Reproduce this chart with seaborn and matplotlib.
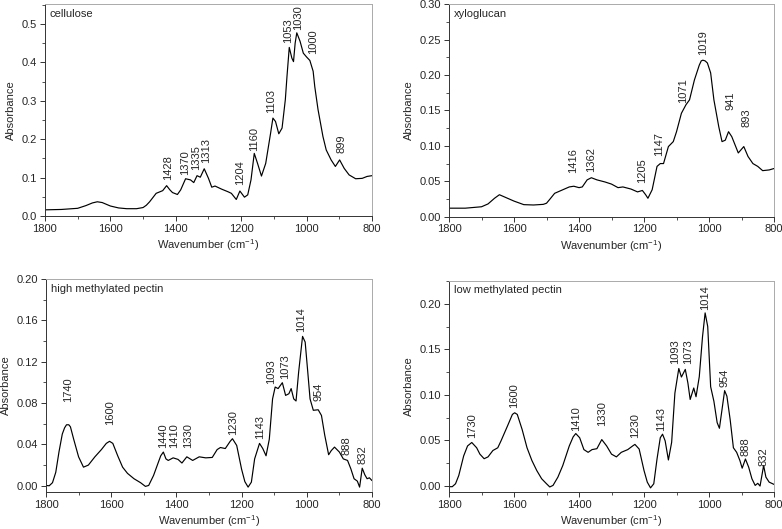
import matplotlib
matplotlib.use('Agg')
import matplotlib.pyplot as plt
import seaborn as sns
from matplotlib.ticker import MultipleLocator, FormatStrFormatter

# cellulose spectrum
cellulose_wn = [1800, 1750, 1700, 1675, 1655, 1640, 1625, 1600, 1575, 1550, 1520, 1500,
                1490, 1480, 1460, 1440, 1428, 1418, 1410, 1395,
                1385, 1370, 1355, 1345, 1335, 1325, 1313, 1300, 1290, 1280, 1260, 1240,
                1230, 1215, 1204, 1190, 1180, 1170, 1160, 1150, 1138, 1125, 1110, 1103,
                1095, 1085, 1075, 1065, 1060, 1053, 1045, 1040, 1035, 1030, 1020, 1010,
                1000, 990, 980, 975, 965, 950, 940, 925, 912, 899, 885, 870, 850, 830,
                815, 800]
cellulose_abs = [0.016, 0.017, 0.020, 0.027, 0.034, 0.037, 0.035, 0.026, 0.021, 0.019,
                 0.019, 0.022, 0.028, 0.037, 0.059, 0.066, 0.079, 0.068,
                 0.061, 0.056, 0.068, 0.097, 0.094, 0.087, 0.105, 0.101, 0.123, 0.098,
                 0.075, 0.078, 0.070, 0.063, 0.059, 0.043, 0.065, 0.049, 0.055, 0.094,
                 0.163, 0.137, 0.104, 0.137, 0.216, 0.255, 0.246, 0.214, 0.229, 0.303,
                 0.363, 0.439, 0.411, 0.402, 0.450, 0.477, 0.455, 0.424, 0.414, 0.405,
                 0.377, 0.337, 0.277, 0.207, 0.172, 0.146, 0.129, 0.146, 0.124, 0.107,
                 0.097, 0.098, 0.103, 0.105]
cellulose_peaks = ['1428', '1370', '1335', '1313', '1204', '1160', '1103', '1053', '1030',
                   '1000', '899']
cellulose_peak_x = [1425, 1371, 1338, 1307, 1203, 1162, 1108, 1058, 1026, 979, 892]
cellulose_peak_y = [0.094, 0.107, 0.120, 0.137, 0.081, 0.168, 0.268, 0.450, 0.485, 0.423,
                    0.163]

# xyloglucan spectrum
xyloglucan_wn = [1800, 1750, 1700, 1680, 1660, 1645, 1630, 1600, 1570, 1540, 1510, 1500,
                 1490, 1475, 1450, 1430, 1416, 1400, 1390, 1375, 1362, 1345, 1320, 1300,
                 1280, 1265, 1240, 1220, 1205, 1195, 1188, 1175, 1160, 1150, 1140, 1125,
                 1110, 1100, 1085, 1071, 1060, 1045, 1030, 1024, 1019, 1012, 1005, 995,
                 985, 970, 960, 950, 940, 930, 910, 893, 880, 865, 850, 835, 815, 800]
xyloglucan_abs = [0.012, 0.012, 0.014, 0.018, 0.026, 0.031, 0.028, 0.022, 0.017, 0.0165,
                  0.0174, 0.019, 0.0245, 0.033, 0.038, 0.042, 0.043, 0.041, 0.042, 0.052,
                  0.055, 0.052, 0.049, 0.046, 0.041, 0.042, 0.039, 0.035, 0.037, 0.031,
                  0.026, 0.038, 0.071, 0.075, 0.075, 0.099, 0.106, 0.120, 0.146, 0.158,
                  0.165, 0.193, 0.214, 0.220, 0.221, 0.220, 0.217, 0.203, 0.165, 0.127,
                  0.106, 0.108, 0.120, 0.113, 0.090, 0.099, 0.085, 0.075, 0.071, 0.065,
                  0.066, 0.068]
xyloglucan_peaks = ['1416', '1362', '1205', '1147', '1071', '1019', '941', '893']
xyloglucan_peak_x = [1418, 1362, 1206, 1153, 1079, 1017, 935, 886]
xyloglucan_peak_y = [0.061, 0.0636, 0.047, 0.085, 0.160, 0.228, 0.151, 0.127]

# high methylated pectin spectrum
hm_pectin_wn = [1800, 1790, 1780, 1770, 1760, 1750, 1743, 1737, 1730, 1725, 1715, 1700,
                1685, 1670, 1650, 1630, 1615, 1605, 1595, 1580, 1565, 1550, 1530, 1510,
                1495, 1485, 1470, 1455, 1448, 1440, 1432, 1425, 1410, 1395, 1383, 1368,
                1350, 1330, 1310, 1290, 1275, 1265, 1250, 1235, 1228, 1215, 1200, 1190,
                1180, 1170, 1160, 1145, 1135, 1125, 1115, 1105, 1097, 1088, 1075, 1065,
                1055, 1048, 1040, 1033, 1025, 1013, 1005, 997, 990, 980, 965, 955, 945,
                933, 925, 915, 900, 888, 875, 865, 855, 845, 838, 830, 822, 815, 808, 800]
hm_pectin_abs = [0.0003, 0.0, 0.003, 0.013, 0.033, 0.050, 0.056, 0.059, 0.059, 0.057,
                 0.045, 0.028, 0.018, 0.020, 0.028, 0.035, 0.041, 0.043, 0.041, 0.029,
                 0.018, 0.012, 0.0068, 0.003, -0.0006, 0.0003, 0.010, 0.023, 0.029, 0.0326,
                 0.026, 0.0245, 0.027, 0.0255, 0.022, 0.028, 0.0245, 0.028, 0.027, 0.0274,
                 0.035, 0.037, 0.036, 0.043, 0.0455, 0.039, 0.016, 0.004, -0.0013, 0.0035,
                 0.026, 0.041, 0.036, 0.029, 0.045, 0.084, 0.0955, 0.094, 0.0997, 0.0874,
                 0.089, 0.094, 0.084, 0.082, 0.110, 0.1445, 0.139, 0.110, 0.084, 0.073,
                 0.0735, 0.068, 0.049, 0.030, 0.034, 0.0374, 0.0326, 0.026, 0.0245, 0.0165,
                 0.0068, 0.0045, -0.0013, 0.017, 0.0106, 0.0068, 0.0077, 0.005]
hm_pectin_peaks = ['1740', '1600', '1440', '1410', '1330', '1230', '1143', '1093', '1073',
                   '1014', '954', '888', '832']
hm_pectin_peak_x = [1732, 1604, 1442, 1408, 1364, 1226, 1142, 1108, 1068, 1017, 965, 879,
                    828]
hm_pectin_peak_y = [0.081, 0.059, 0.0365, 0.0365, 0.0365, 0.049, 0.0455, 0.0987, 0.1035,
                    0.149, 0.0816, 0.030, 0.021]

# low methylated pectin spectrum
lm_pectin_wn = [1800, 1790, 1780, 1770, 1755, 1743, 1730, 1715, 1705, 1692, 1680, 1665,
                1650, 1640, 1620, 1605, 1598, 1590, 1575, 1560, 1545, 1530, 1515, 1500,
                1490, 1480, 1465, 1450, 1430, 1418, 1410, 1398, 1385, 1372, 1360, 1345,
                1330, 1315, 1300, 1285, 1270, 1250, 1235, 1228, 1215, 1200, 1190, 1180,
                1170, 1160, 1150, 1143, 1135, 1125, 1115, 1105, 1093, 1085, 1073, 1065,
                1058, 1047, 1040, 1030, 1020, 1012, 1004, 995, 985, 975, 968, 960, 952,
                945, 935, 925, 915, 905, 898, 888, 878, 868, 858, 850, 843, 832, 825, 815,
                800]
lm_pectin_abs = [-0.0007, -0.0007, 0.0025, 0.0116, 0.033, 0.044, 0.0478, 0.042, 0.035,
                 0.030, 0.032, 0.039, 0.042, 0.0496, 0.066, 0.0786, 0.0804, 0.0786, 0.062,
                 0.042, 0.028, 0.017, 0.008, 0.0025, -0.001, 0.0007, 0.0098, 0.0225, 0.044,
                 0.054, 0.0576, 0.053, 0.040, 0.037, 0.040, 0.041, 0.051, 0.044, 0.035,
                 0.032, 0.037, 0.040, 0.044, 0.0457, 0.0406, 0.017, 0.0043, -0.002, 0.0025,
                 0.0297, 0.053, 0.0569, 0.0496, 0.0286, 0.048, 0.102, 0.129, 0.1196, 0.128,
                 0.113, 0.095, 0.1076, 0.098, 0.120, 0.164, 0.190, 0.175, 0.109, 0.093,
                 0.0696, 0.0634, 0.084, 0.1047, 0.0986, 0.073, 0.042, 0.037, 0.028, 0.0196,
                 0.0297, 0.0207, 0.008, 0.0007, 0.003, 0.0, 0.0225, 0.0098, 0.0043, 0.0018]
lm_pectin_peaks = ['1730', '1600', '1410', '1330', '1230', '1143', '1093', '1073', '1014',
                   '954', '888', '832']
lm_pectin_peak_x = [1730, 1600, 1409, 1330, 1228, 1146, 1105, 1064, 1012, 951, 887, 832]
lm_pectin_peak_y = [0.053, 0.086, 0.0605, 0.066, 0.053, 0.0605, 0.134, 0.134, 0.193, 0.109,
                    0.033, 0.0225]

sns.set_style('ticks')
plt.rcParams['font.family'] = ['Liberation Sans', 'DejaVu Sans']
plt.rcParams['mathtext.fontset'] = 'custom'
plt.rcParams['mathtext.rm'] = 'Liberation Sans'
plt.rcParams['mathtext.it'] = 'Liberation Sans:italic'

fig = plt.figure(figsize=(7.82, 5.29), dpi=100)

panels = [
    ('cellulose', cellulose_wn, cellulose_abs, cellulose_peaks, cellulose_peak_x,
     cellulose_peak_y, [0.0575, 0.5917, 0.4182, 0.4007], (0, 0.552), 0.1, '%.1f'),
    ('xyloglucan', xyloglucan_wn, xyloglucan_abs, xyloglucan_peaks, xyloglucan_peak_x,
     xyloglucan_peak_y, [0.5742, 0.5904, 0.4156, 0.4016], (0, 0.30), 0.05, '%.2f'),
    ('high methylated pectin', hm_pectin_wn, hm_pectin_abs, hm_pectin_peaks,
     hm_pectin_peak_x, hm_pectin_peak_y, [0.0588, 0.070, 0.4169, 0.4026],
     (-0.006, 0.20), 0.04, '%.2f'),
    ('low methylated pectin', lm_pectin_wn, lm_pectin_abs, lm_pectin_peaks,
     lm_pectin_peak_x, lm_pectin_peak_y, [0.5742, 0.070, 0.4156, 0.3988],
     (-0.0065, 0.225), 0.05, '%.2f'),
]

for name, wn, ab, peaks, px, py, rect, ylim, ystep, fmt in panels:
    ax = fig.add_axes(rect)
    sns.lineplot(x=wn, y=ab, ax=ax, color='black', linewidth=0.85, estimator=None)
    ax.set_xlim(1800, 800)
    ax.set_ylim(*ylim)
    ax.xaxis.set_major_locator(MultipleLocator(200))
    ax.xaxis.set_minor_locator(MultipleLocator(100))
    ax.yaxis.set_major_locator(MultipleLocator(ystep))
    ax.yaxis.set_minor_locator(MultipleLocator(ystep / 2))
    ax.yaxis.set_major_formatter(FormatStrFormatter(fmt))
    ax.tick_params(which='major', direction='out', length=3.5, width=0.7,
                   labelsize=8, color='#333333', pad=2)
    ax.tick_params(which='minor', direction='out', length=2, width=0.6, color='#333333')
    for side in ['left', 'bottom']:
        ax.spines[side].set_color('#333333')
        ax.spines[side].set_linewidth(0.7)
    for side in ['top', 'right']:
        ax.spines[side].set_color('#aaaaaa')
        ax.spines[side].set_linewidth(0.7)
    ax.set_xlabel(r'Wavenumber (cm$^{-1}$)', fontsize=8, labelpad=2.5)
    ax.set_ylabel('Absorbance', fontsize=8)
    ax.text(0.015, 0.955, name, transform=ax.transAxes, fontsize=8, va='center', ha='left')
    for lab, x, y in zip(peaks, px, py):
        ax.text(x, y, lab, rotation=90, fontsize=8, ha='center', va='bottom')

fig.savefig('out.png', dpi=100)
